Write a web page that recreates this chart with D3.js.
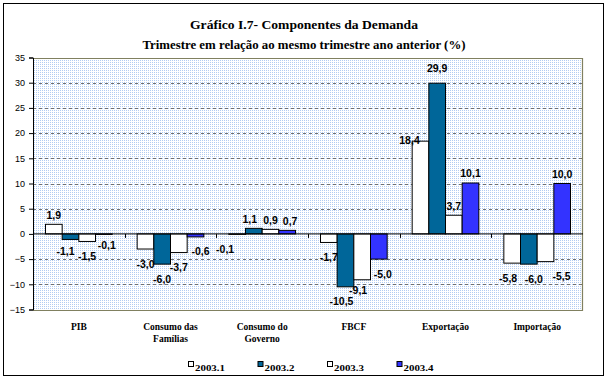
<!DOCTYPE html>
<html>
<head>
<meta charset="utf-8">
<script src="https://cdn.jsdelivr.net/npm/d3@7"></script>
<style>
  body { margin: 0; background: #fff; }
  svg { display: block; }
</style>
</head>
<body>
<svg id="chart" width="608" height="380"></svg>
<script>
// ---- data ----
const categories = ["PIB", "Consumo das\nFamílias", "Consumo do\nGoverno", "FBCF", "Exportação", "Importação"];
const seriesNames = ["2003.1", "2003.2", "2003.3", "2003.4"];
const s2003_1 = [1.9, -3.0, -0.1, -1.7, 18.4, -5.8];
const s2003_2 = [-1.1, -6.0, 1.1, -10.5, 29.9, -6.0];
const s2003_3 = [-1.5, -3.7, 0.9, -9.1, 3.7, -5.5];
const s2003_4 = [-0.1, -0.6, 0.7, -5.0, 10.1, 10.0];
const yTicks = [-15, -10, -5, 0, 5, 10, 15, 20, 25, 30, 35];
const titleLines = ["Gráfico I.7- Componentes da Demanda", "Trimestre em relação ao mesmo trimestre ano anterior (%)"];

const seriesValues = [s2003_1, s2003_2, s2003_3, s2003_4];
const colors = ["#ffffff", "#006699", "#ffffff", "#3333ff"];

const svg = d3.select("#chart");

// outer frame
svg.append("rect").attr("x", 3.5).attr("y", 3.5).attr("width", 600).attr("height", 372)
  .attr("fill", "#fff").attr("stroke", "#000").attr("stroke-width", 1);

// pattern for plot background
const defs = svg.append("defs");
const pat = defs.append("pattern").attr("id", "dots").attr("patternUnits", "userSpaceOnUse")
  .attr("width", 2).attr("height", 2);
pat.append("rect").attr("width", 2).attr("height", 2).attr("fill", "#ffffff");
pat.append("rect").attr("width", 1).attr("height", 1).attr("fill", "#b2ccf2");

// title
const tW = [228, 323];
svg.selectAll("text.title").data(titleLines).join("text")
  .attr("class", "title")
  .attr("x", 304).attr("y", (d, i) => 29 + i * 19.5)
  .attr("text-anchor", "middle")
  .attr("textLength", (d, i) => tW[i]).attr("lengthAdjust", "spacingAndGlyphs")
  .style("font-family", "'Liberation Serif', 'Times New Roman', serif")
  .style("font-weight", "bold").style("font-size", "12.5px")
  .text(d => d);

// scales
const L = 33, R = 583, T = 57.5, B = 309.5;
const x = d3.scaleBand().domain(categories).range([L, R]).paddingInner(0).paddingOuter(0);
const xi = d3.scaleBand().domain(seriesNames).range([12.5, x.bandwidth() - 12.5]).padding(0);
const y = d3.scaleLinear().domain([-15, 35]).range([B, T]);

// plot background
svg.append("rect").attr("x", L).attr("y", T).attr("width", R - L).attr("height", B - T)
  .attr("fill", "url(#dots)");

// grid lines
svg.append("g").selectAll("line").data(yTicks.filter(t => t !== 0 && t !== 35 && t !== -15)).join("line")
  .attr("x1", L).attr("x2", R)
  .attr("y1", d => Math.round(y(d)) + 0.5).attr("y2", d => Math.round(y(d)) + 0.5)
  .attr("stroke", "#707070").attr("stroke-dasharray", "3,3").attr("stroke-width", 1);

// plot border (top, right, bottom)
svg.append("path")
  .attr("d", `M${L},${Math.round(T) + 0.5}H${R - 0.5}V${Math.round(B) + 0.5}H${L}`)
  .attr("fill", "none").attr("stroke", "#808060").attr("stroke-width", 1.2);

// bars
const data = [];
categories.forEach((c, ci) => seriesNames.forEach((s, si) => data.push({ c, ci, s, si, v: seriesValues[si][ci] })));

svg.append("g").selectAll("rect").data(data).join("rect")
  .attr("x", d => x(d.c) + xi(d.s))
  .attr("y", d => y(Math.max(0, d.v)))
  .attr("width", xi.bandwidth())
  .attr("height", d => Math.abs(y(d.v) - y(0)))
  .attr("fill", d => colors[d.si])
  .attr("stroke", "#000").attr("stroke-width", 1);

// y axis
const yAxis = svg.append("g").attr("transform", `translate(${L},0)`)
  .call(d3.axisLeft(y).tickValues(yTicks).tickSize(4).tickPadding(4).tickFormat(d3.format("d")));
yAxis.select(".domain").attr("stroke", "#000");
yAxis.selectAll("text").style("font-family", "'Liberation Sans', Arial, sans-serif")
  .style("font-size", "9px").attr("fill", "#000");

// zero line with category boundary ticks
svg.append("line").attr("x1", L).attr("x2", R).attr("y1", y(0)).attr("y2", y(0))
  .attr("stroke", "#000").attr("stroke-width", 1);
svg.append("g").selectAll("line").data(categories.slice(1)).join("line")
  .attr("x1", d => Math.round(x(d)) + 0.5).attr("x2", d => Math.round(x(d)) + 0.5)
  .attr("y1", y(0)).attr("y2", y(0) + 4)
  .attr("stroke", "#000");

// category labels
const catG = svg.append("g");
categories.forEach(c => {
  const t = catG.append("text")
    .attr("x", x(c) + x.bandwidth() / 2).attr("y", 330)
    .attr("text-anchor", "middle")
    .style("font-family", "'Liberation Serif', 'Times New Roman', serif")
    .style("font-weight", "bold").style("font-size", "9.5px");
  c.split("\n").forEach((line, li) => {
    t.append("tspan").attr("x", x(c) + x.bandwidth() / 2).attr("dy", li ? 12 : 0).text(line);
  });
});

// value labels (small nudges mimic the original label placement)
const nudge = {
  "0-1": [-5, -3], "0-3": [3, -4], "1-3": [5, 0], "2-0": [-12, 0], "2-1": [-4, 0], "2-3": [3, 0],
  "3-1": [-4, 0], "3-2": [-4, -4], "3-3": [4, 0], "4-0": [-11, 8], "4-1": [0, -6],
  "5-0": [-4, 0], "5-1": [5, 0], "5-2": [16, 0]
};
const fmt = v => d3.format(".1f")(v).replace(".", ",").replace("−", "-");
svg.append("g").selectAll("text").data(data).join("text")
  .attr("x", d => x(d.c) + xi(d.s) + xi.bandwidth() / 2 + ((nudge[d.ci + "-" + d.si] || [0, 0])[0]))
  .attr("y", d => (d.v >= 0 ? y(d.v) - 5.5 : y(d.v) + 18.5) + ((nudge[d.ci + "-" + d.si] || [0, 0])[1]))
  .attr("text-anchor", "middle")
  .style("font-family", "'Liberation Sans', Arial, sans-serif")
  .style("font-weight", "bold").style("font-size", "10.5px")
  .text(d => fmt(d.v));

// legend
const lg = svg.append("g");
seriesNames.forEach((s, i) => {
  const lx = 188 + i * 69.5;
  lg.append("rect").attr("x", lx + 0.5).attr("y", 361.5).attr("width", 5).attr("height", 5)
    .attr("fill", colors[i]).attr("stroke", "#000").attr("stroke-width", 1);
  lg.append("text").attr("x", lx + 7).attr("y", 370.5)
    .attr("textLength", 30).attr("lengthAdjust", "spacingAndGlyphs")
    .style("font-family", "'Liberation Serif', 'Times New Roman', serif")
    .style("font-weight", "bold").style("font-size", "9px")
    .text(s);
});
</script>
</body>
</html>
